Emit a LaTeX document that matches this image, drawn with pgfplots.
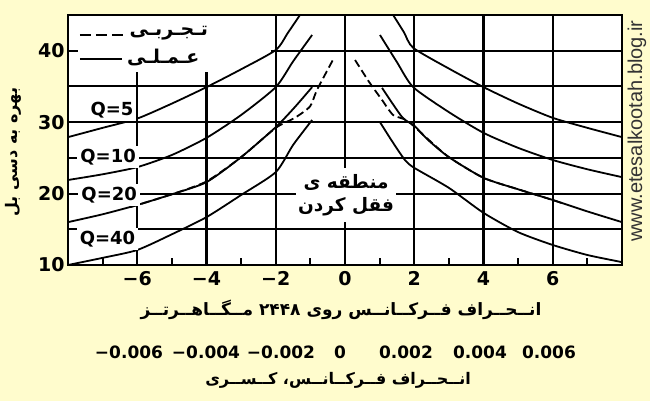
\documentclass[border=0pt]{standalone}
\usepackage{fontspec}
\setmainfont{DejaVu Sans}
\newfontfamily\fa[Script=Arabic]{DejaVu Sans}
\newfontfamily\web{Liberation Sans}
\usepackage{pgfplots}
\pgfplotsset{compat=1.18}
\TeXXeTstate=1
\definecolor{bg}{RGB}{255,252,205}

\begin{document}
\begin{tikzpicture}
\fill[bg] (-68pt,-136pt) rectangle (582pt,265pt);
\begin{axis}[
  at={(0,0)}, anchor=south west,
  width=554pt, height=250pt, scale only axis,
  xmin=-8, xmax=8, ymin=10, ymax=45,
  axis background/.style={fill=white},
  xtick={-6,-4,-2,0,2,4,6},
  xticklabels={−6,−4,−2,0,2,4,6},
  minor xtick={-7,-5,-3,-1,1,3,5,7},
  ytick={10,15,20,25,30,35,40},
  yticklabels={10,,20,,30,,40},
  xmajorgrids=true, ymajorgrids=true,
  grid style={black, line width=2.1pt},
  axis line style={line width=2.8pt},
  major tick length=0pt,
  minor tick length=7pt,
  tick align=inside,
  xtick pos=left, ytick pos=left,
  minor tick style={line width=1.8pt, black},
  ticklabel style={font=\fontsize{19}{20}\selectfont\bfseries},
  xticklabel style={yshift=-3pt},
  clip=false,
]
% legend area is blank
\fill[white] (axis cs:-7.72,37) rectangle (axis cs:-2.14,44.8);

% practical curves (solid)
\addplot[black, line width=1.8pt, smooth, tension=0.4] coordinates {(-8,27.9) (-7,29.2) (-6,30.5) (-5,32.6) (-4,34.9) (-3,37.4) (-2,40.1) (-1.65,42.5) (-1.3,45)};
\addplot[black, line width=1.8pt, smooth, tension=0.4] coordinates {(1.39,45) (1.7,42.6) (1.97,40.4) (3,37.5) (4,34.9) (5,32.6) (6,30.6) (7,29.2) (8,27.9)};
\addplot[black, line width=1.8pt, smooth, tension=0.4] coordinates {(-8,21.9) (-7,22.7) (-6,23.7) (-5,25.4) (-4,27.8) (-3,31.0) (-2,34.9) (-1.5,38.5) (-0.95,42.2)};
\addplot[black, line width=1.8pt, smooth, tension=0.4] coordinates {(1.01,42.2) (1.5,38.4) (1.97,34.9) (3,31.4) (4,28.5) (5,26.4) (6,24.7) (7,23.4) (8,22.3)};
\addplot[black, line width=1.8pt, smooth, tension=0.4] coordinates {(-8,16.0) (-7,17.1) (-6,18.4) (-5,19.9) (-4,21.6) (-3,25.1) (-2,29.3) (-1.45,32.1) (-0.95,34.9)};
\addplot[black, line width=1.8pt, smooth, tension=0.4] coordinates {(1.07,34.8) (1.65,30.7) (2,29.5) (2.4,27.5) (3,25.1) (4,22.2) (5,20.6) (6,19.1) (7,17.5) (8,16.0)};
\addplot[black, line width=1.8pt, smooth, tension=0.4] coordinates {(-8,10.0) (-7,11.0) (-6,12.1) (-5,14.3) (-4,16.7) (-3,19.8) (-2,23.0) (-1.5,26.8) (-0.95,30.3)};
\addplot[black, line width=1.8pt, smooth, tension=0.4] coordinates {(1.01,30.0) (1.35,27.4) (1.73,24.7) (2,23.6) (3,20.8) (4,17.3) (5,14.6) (6,12.8) (7,11.4) (8,10.4)};

% experimental curves (dashed), Q=20
\addplot[black, line width=1.8pt, smooth, tension=0.4, dash pattern=on 8pt off 4pt] coordinates {(-6.2,18.1) (-5,19.9) (-4,21.7) (-3,25.1) (-2,29.2) (-1.45,30.6) (-1.01,32.2) (-0.81,34.5) (-0.35,38.7)};
\addplot[black, line width=1.8pt, smooth, tension=0.4, dash pattern=on 8pt off 4pt] coordinates {(0.29,38.7) (0.7,35.6) (1.07,33.1) (1.39,31.0) (1.8,30.2) (2.4,27.6) (3,25.1) (4,22.2) (5,20.6) (6,19.1) (6.3,18.6)};

% legend
\draw[black, line width=1.8pt, dash pattern=on 11pt off 5pt] (axis cs:-7.66,42.2) -- (axis cs:-6.3,42.2);
\draw[black, line width=1.8pt] (axis cs:-7.66,38.85) -- (axis cs:-6.45,38.85);
\node[font=\fa\bfseries\fontsize{19}{20}\selectfont] at (axis cs:-5.09,42.4) {\beginR تـجـربـی\endR};
\node[font=\fa\bfseries\fontsize{19}{20}\selectfont] at (axis cs:-5.25,39.0) {\beginR عـمـلـی\endR};

% Q labels
\tikzset{qlab/.style={fill=white, inner sep=3pt, font=\fontsize{18}{20}\selectfont\bfseries}}
\node[qlab] at (axis cs:-6.73,31.7) {Q=5};
\node[qlab] at (axis cs:-6.84,25.1) {Q=10};
\node[qlab] at (axis cs:-6.81,19.8) {Q=20};
\node[qlab] at (axis cs:-6.86,13.6) {Q=40};

% locking region
\node[fill=white, minimum width=96pt, minimum height=54pt, align=center, inner sep=2pt,
      font=\fa\bfseries\fontsize{18.5}{23}\selectfont] at (axis cs:0.03,19.8)
  {\beginR منطقه ی\endR\\\beginR فقل کردن\endR};
\end{axis}

% axis titles and second scale
\node[font=\fa\bfseries\fontsize{17}{20}\selectfont] at (273pt,-45pt)
  {\beginR انــحــراف فــرکــانــس روی ۲۴۴۸ مــگــاهــرتــز\endR};
\foreach \p/\t in {61/−0.006, 138/−0.004, 213/−0.002, 272/0, 338/0.002, 412/0.004, 481/0.006}
  \node[font=\fontsize{17}{20}\selectfont\bfseries] at (\p pt,-87pt) {\t};
\node[font=\fa\bfseries\fontsize{16}{20}\selectfont] at (270pt,-115pt)
  {\beginR انــحــراف فــرکــانــس، کــســری\endR};
\node[rotate=90, font=\fa\bfseries\fontsize{16}{18}\selectfont] at (-55pt,113pt)
  {\beginR بهره به دسی بل\endR};
\node[rotate=90, text=black!80, font=\web\fontsize{20}{22}\selectfont] at (569pt,134pt)
  {www.etesalkootah.blog.ir};

\pgfresetboundingbox
\path (-68pt,-136pt) rectangle (582pt,265pt);
\end{tikzpicture}
\end{document}
